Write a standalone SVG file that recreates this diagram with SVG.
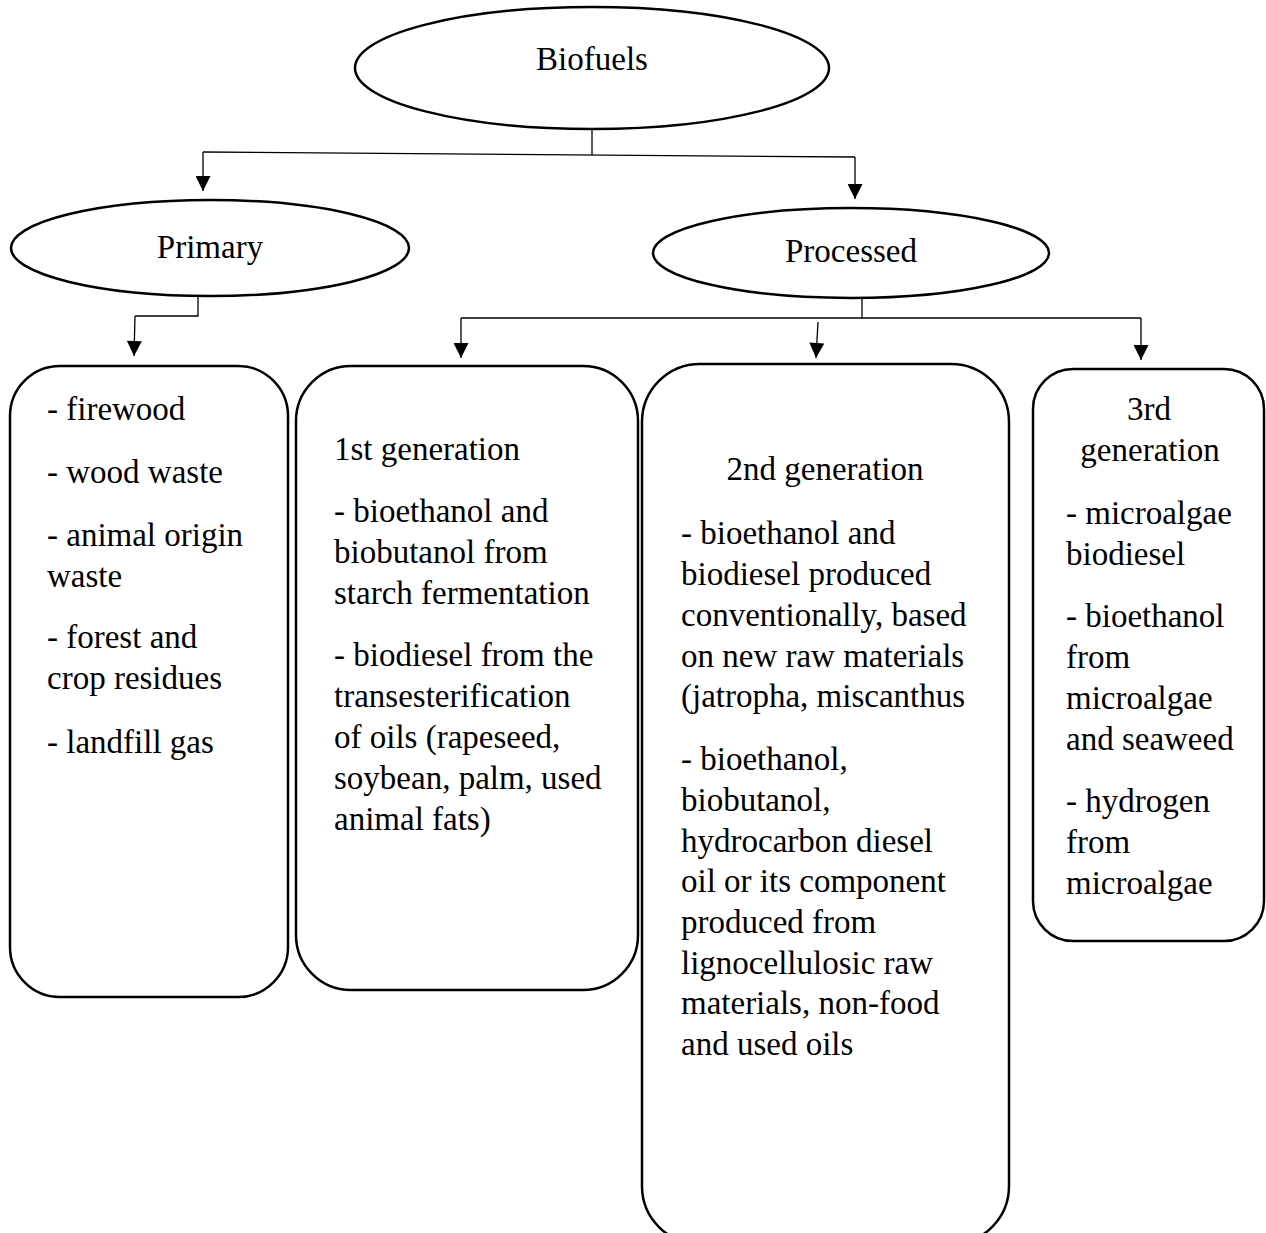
<svg xmlns="http://www.w3.org/2000/svg" width="1266" height="1233" viewBox="0 0 1266 1233">
<defs>
<marker id="arr" viewBox="0 0 10 10" refX="10" refY="5" markerWidth="16" markerHeight="15" markerUnits="userSpaceOnUse" orient="auto"><path d="M0,0 L10,5 L0,10 Z" fill="#000"/></marker>
<style>
.shape{fill:#fff;stroke:#000;stroke-width:2.5}
.t{font-family:"Liberation Serif","Times New Roman",serif;font-size:33px;fill:#000}
.c{text-anchor:middle}
.ln{fill:none;stroke:#000;stroke-width:1.3}
.ar{fill:none;stroke:#000;stroke-width:1.3;marker-end:url(#arr)}
</style>
</defs>
<rect width="1266" height="1233" fill="#fff"/>
<g id="connectors">
<polyline class="ln" points="592,130 592,155"/>
<polyline class="ln" points="203,152 855,157"/>
<polyline class="ar" points="203,152 203,191"/>
<polyline class="ar" points="855,157 855,199"/>
<polyline class="ln" points="198,297 198,316 135,316"/>
<polyline class="ar" points="135,316 134,356"/>
<polyline class="ln" points="862,297 862,318"/>
<polyline class="ln" points="461,318 1141,318"/>
<polyline class="ar" points="461,318 461,358"/>
<polyline class="ar" points="818,322 816,358"/>
<polyline class="ar" points="1141,318 1141,360"/>
</g>
<g id="biofuels">
<ellipse class="shape" cx="592" cy="68" rx="237" ry="61"/>
<text class="t c" x="592" y="70">Biofuels</text>
</g>
<g id="primary">
<ellipse class="shape" cx="210" cy="248" rx="199" ry="48"/>
<text class="t c" x="210" y="258">Primary</text>
</g>
<g id="processed">
<ellipse class="shape" cx="851" cy="253" rx="198" ry="45"/>
<text class="t c" x="851" y="262">Processed</text>
</g>
<g id="primary-list">
<rect class="shape" x="10" y="366" width="278" height="631" rx="50" ry="50"/>
<text class="t" x="47" y="420">- firewood</text>
<text class="t" x="47" y="483">- wood waste</text>
<text class="t" x="47" y="546">- animal origin</text>
<text class="t" x="47" y="587">waste</text>
<text class="t" x="47" y="648">- forest and</text>
<text class="t" x="47" y="689">crop residues</text>
<text class="t" x="47" y="753">- landfill gas</text>
</g>
<g id="gen1">
<rect class="shape" x="296" y="366" width="342" height="624" rx="55" ry="55"/>
<text class="t" x="334" y="460">1st generation</text>
<text class="t" x="334" y="522">- bioethanol and</text>
<text class="t" x="334" y="563">biobutanol from</text>
<text class="t" x="334" y="604">starch fermentation</text>
<text class="t" x="334" y="666">- biodiesel from the</text>
<text class="t" x="334" y="707">transesterification</text>
<text class="t" x="334" y="748">of oils (rapeseed,</text>
<text class="t" x="334" y="789">soybean, palm, used</text>
<text class="t" x="334" y="830">animal fats)</text>
</g>
<g id="gen2">
<rect class="shape" x="642" y="364" width="367" height="880" rx="58" ry="58"/>
<text class="t c" x="825" y="480">2nd generation</text>
<text class="t" x="681" y="544">- bioethanol and</text>
<text class="t" x="681" y="585">biodiesel produced</text>
<text class="t" x="681" y="626">conventionally, based</text>
<text class="t" x="681" y="667">on new raw materials</text>
<text class="t" x="681" y="707">(jatropha, miscanthus</text>
<text class="t" x="681" y="770">- bioethanol,</text>
<text class="t" x="681" y="811">biobutanol,</text>
<text class="t" x="681" y="852">hydrocarbon diesel</text>
<text class="t" x="681" y="892">oil or its component</text>
<text class="t" x="681" y="933">produced from</text>
<text class="t" x="681" y="974">lignocellulosic raw</text>
<text class="t" x="681" y="1014">materials, non-food</text>
<text class="t" x="681" y="1055">and used oils</text>
</g>
<g id="gen3">
<rect class="shape" x="1033" y="369" width="231" height="572" rx="40" ry="40"/>
<text class="t c" x="1149" y="420">3rd</text>
<text class="t c" x="1150" y="461">generation</text>
<text class="t" x="1066" y="524">- microalgae</text>
<text class="t" x="1066" y="565">biodiesel</text>
<text class="t" x="1066" y="627">- bioethanol</text>
<text class="t" x="1066" y="668">from</text>
<text class="t" x="1066" y="709">microalgae</text>
<text class="t" x="1066" y="750">and seaweed</text>
<text class="t" x="1066" y="812">- hydrogen</text>
<text class="t" x="1066" y="853">from</text>
<text class="t" x="1066" y="894">microalgae</text>
</g>
</svg>
